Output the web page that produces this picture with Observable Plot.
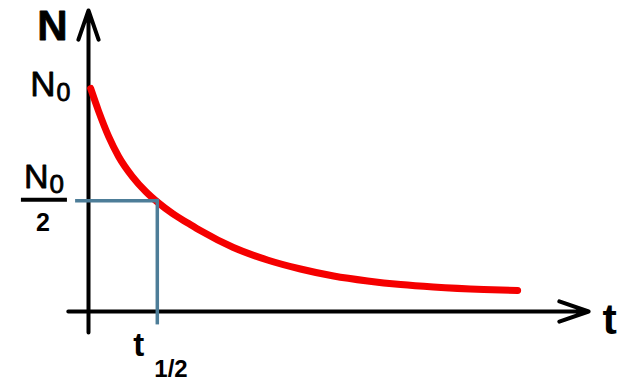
<!DOCTYPE html>
<html>
<head>
<meta charset="utf-8">
<script src="https://cdn.jsdelivr.net/npm/d3@7"></script>
<script src="https://cdn.jsdelivr.net/npm/@observablehq/plot@0.6"></script>
<style>
  html, body { margin: 0; padding: 0; background: #fff; }
</style>
</head>
<body>
<div id="chart"></div>
<script>
// Decay curve: time t (arbitrary units) and amount N (N0 = 100)
const tValues = [0.05, 0.23, 0.47, 0.70, 1.02, 1.33, 1.63, 1.95, 2.33, 2.60, 3.37, 4.16, 4.93, 5.70, 6.49, 7.26, 8.02, 9.19, 9.98];
const nValues = [98.7, 88.9, 77.4, 68.6, 59.7, 53.1, 48.0, 43.4, 38.9, 35.8, 28.3, 22.8, 18.8, 15.7, 13.5, 11.9, 10.8, 9.7, 9.3];

// Key values
const N0 = 100;
const nHalf = 49;       // N0/2 guide level as drawn
const tHalf = 1.6;      // half-life

// Axis extents (data units)
const xAxisExtent = [-0.47, 11.63];
const yAxisExtent = [-9.3, 133.2];
// Guide extents (data units)
const halfGuideStart = -0.3;
const halfGuideBottom = -6.6;
const fracBarExtent = [-1.56, -0.49];

// Labels
const labelN = "N";
const labelT = "t";
const labelSub0 = "0";
const labelTwo = "2";
const labelHalfSub = "1/2";

const curve = tValues.map((t, i) => ({t, n: nValues[i]}));
const font = "'Liberation Sans', Arial, Helvetica, sans-serif";
const heavy = {stroke: "#000", strokeWidth: 0.8};

const plot = Plot.plot({
  width: 633,
  height: 382,
  style: {background: "#fff", fontFamily: font},
  x: {domain: [0, 10], range: [88, 518], axis: null},
  y: {domain: [0, 100], range: [311, 85], axis: null},
  marks: [
    // axes with arrow heads
    Plot.arrow([{x1: xAxisExtent[0], y1: 0, x2: xAxisExtent[1], y2: 0}], {
      x1: "x1", y1: "y1", x2: "x2", y2: "y2",
      stroke: "#000", strokeWidth: 4, headAngle: 38, headLength: 11.6,
      strokeLinecap: "round", strokeLinejoin: "round"
    }),
    Plot.arrow([{x1: 0, y1: yAxisExtent[0], x2: 0, y2: yAxisExtent[1]}], {
      x1: "x1", y1: "y1", x2: "x2", y2: "y2",
      stroke: "#000", strokeWidth: 4, headAngle: 38, headLength: 11.6,
      strokeLinecap: "round", strokeLinejoin: "round"
    }),
    // decay curve
    Plot.line(curve, {
      x: "t", y: "n", stroke: "#f50000", strokeWidth: 7,
      curve: "monotone-x", strokeLinecap: "round", strokeLinejoin: "round"
    }),
    // half-life guides
    Plot.ruleY([nHalf], {x1: halfGuideStart, x2: tHalf, stroke: "#4d7d98", strokeWidth: 3.5}),
    Plot.ruleX([tHalf], {y1: halfGuideBottom, y2: nHalf, stroke: "#4d7d98", strokeWidth: 3.5, dy: -1.5}),
    // fraction bar for N0/2
    Plot.ruleY([nHalf], {x1: fracBarExtent[0], x2: fracBarExtent[1], stroke: "#000", strokeWidth: 4, dy: -1}),

    // "N" axis label at top of y axis
    Plot.text([labelN], {x: 0, y: yAxisExtent[1], text: d => d, textAnchor: "end", lineAnchor: "bottom",
      dx: -21, dy: 30, fontSize: 42, fontWeight: "bold", fontFamily: font, fill: "#000", ...heavy}),
    // "N0" at N0
    Plot.text([labelN], {x: 0, y: N0, text: d => d, textAnchor: "end", lineAnchor: "bottom",
      dx: -33, dy: 10, fontSize: 35, fontFamily: font, fill: "#000", ...heavy}),
    Plot.text([labelSub0], {x: 0, y: N0, text: d => d, textAnchor: "start", lineAnchor: "bottom",
      dx: -32, dy: 15, fontSize: 25, fontFamily: font, fill: "#000", ...heavy}),
    // "N0 / 2" at half level
    Plot.text([labelN], {x: 0, y: nHalf, text: d => d, textAnchor: "end", lineAnchor: "bottom",
      dx: -40, dy: -13, fontSize: 34, fontFamily: font, fill: "#000", ...heavy}),
    Plot.text([labelSub0], {x: 0, y: nHalf, text: d => d, textAnchor: "start", lineAnchor: "bottom",
      dx: -39, dy: -8, fontSize: 26, fontFamily: font, fill: "#000", ...heavy}),
    Plot.text([labelTwo], {x: 0, y: nHalf, text: d => d, textAnchor: "middle", lineAnchor: "bottom",
      dx: -45.5, dy: 30, fontSize: 25, fontWeight: "bold", fontFamily: font, fill: "#000"}),
    // "t" axis label
    Plot.text([labelT], {x: xAxisExtent[1], y: 0, text: d => d, textAnchor: "start", lineAnchor: "bottom",
      dx: 14, dy: 22, fontSize: 43, fontWeight: "bold", fontFamily: font, fill: "#000"}),
    // "t1/2" under the half-life guide
    Plot.text([labelT], {x: tHalf, y: 0, text: d => d, textAnchor: "start", lineAnchor: "bottom",
      dx: -24, dy: 44, fontSize: 33, fontWeight: "bold", fontFamily: font, fill: "#000"}),
    Plot.text([labelHalfSub], {x: tHalf, y: 0, text: d => d, textAnchor: "start", lineAnchor: "bottom",
      dx: -3, dy: 65, fontSize: 24, fontWeight: "bold", fontFamily: font, fill: "#000"})
  ]
});
document.getElementById("chart").appendChild(plot);
</script>
</body>
</html>
